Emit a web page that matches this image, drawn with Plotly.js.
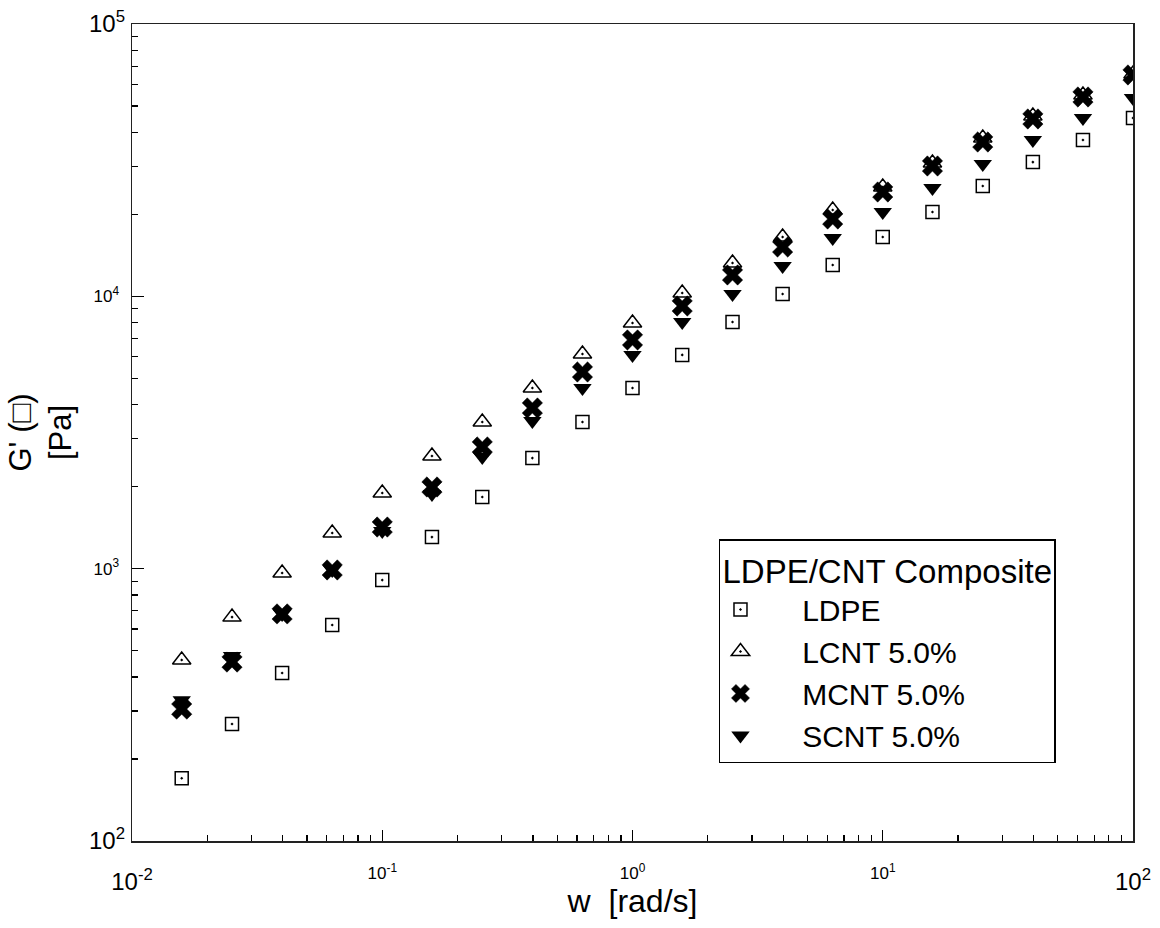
<!DOCTYPE html>
<html>
<head>
<meta charset="utf-8">
<script src="https://cdn.plot.ly/plotly-3.0.1.min.js"></script>
<style>html,body{margin:0;padding:0;background:#fff;}#chart{width:1160px;height:928px;}</style>
</head>
<body>
<div id="chart"></div>
<script>
// frequency w [rad/s]
const freq = [0.0158, 0.0251, 0.0398, 0.0631, 0.1, 0.158, 0.251, 0.398, 0.631, 1, 1.58, 2.51, 3.98, 6.31, 10, 15.8, 25.1, 39.8, 63.1, 100];
// G' [Pa]
const ldpe = [170, 269, 414, 621, 908, 1306, 1833, 2547, 3456, 4606, 6095, 8053, 10200, 13040, 16520, 20400, 25420, 31110, 37500, 45150];
const lcnt = [462, 664, 964, 1352, 1896, 2593, 3455, 4607, 6141, 7984, 10290, 13260, 16520, 20750, 25200, 30880, 38140, 45940, 54860, 65530];
const mcnt = [305, 454, 682, 989, 1422, 1995, 2798, 3890, 5275, 6915, 9216, 11980, 15180, 19230, 24160, 30100, 36870, 44800, 53950, 64990];
const scnt = [329, 478, 682, 989, 1375, 1880, 2571, 3485, 4607, 6088, 8050, 10200, 12930, 16380, 20400, 25000, 30620, 37510, 45170, 53500];

const seriesNames = ['LDPE', 'LCNT 5.0%', 'MCNT 5.0%', 'SCNT 5.0%'];
const legendTitle = 'LDPE/CNT Composite';

// major ticks (inner labels small, end labels large as in the original)
const xMidVals = [0.1, 1, 10];
const xMidText = ['10<sup>-1</sup>', '10<sup>0</sup>', '10<sup>1</sup>'];
const xEndVals = [0.01, 100];
const xEndText = ['10<sup>-2</sup>', '10<sup>2</sup>'];
const yMidVals = [1000, 10000];
const yMidText = ['10<sup>3</sup>', '10<sup>4</sup>'];
const yEndVals = [100, 100000];
const yEndText = ['10<sup>2</sup>', '10<sup>5</sup>'];

function minorVals(lo, hi) {
  const v = [];
  for (let k = lo; k < hi; k++) for (let m = 2; m <= 9; m++) v.push(m * Math.pow(10, k));
  return v;
}

const pad = '\u00a0\u00a0\u00a0\u00a0\u00a0';
const traces = [
  {x: freq, y: ldpe, name: pad + seriesNames[0], mode: 'markers', type: 'scatter',
   marker: {symbol: 'square-open-dot', size: 13, color: 'black', line: {color: 'black', width: 1.5}}},
  {x: freq, y: lcnt, name: pad + seriesNames[1], mode: 'markers', type: 'scatter',
   marker: {symbol: 'triangle-up-open-dot', size: 16, color: 'black', line: {color: 'black', width: 1.5}}},
  {x: freq, y: mcnt, name: pad + seriesNames[2], mode: 'markers', type: 'scatter',
   marker: {symbol: 'x', size: 18, color: 'black', line: {color: 'black', width: 0.5}}},
  {x: freq, y: scnt, name: pad + seriesNames[3], mode: 'markers', type: 'scatter',
   marker: {symbol: 'triangle-down', size: 16, color: 'black', line: {color: 'black', width: 0}}},
  // invisible helper trace so the overlay axes (large end labels) are drawn
  {x: [freq[0]], y: [ldpe[0]], xaxis: 'x2', yaxis: 'y2', mode: 'markers', type: 'scatter',
   marker: {opacity: 0}, showlegend: false, hoverinfo: 'skip'}
];

const font = 'Liberation Sans, Arial, sans-serif';
const layout = {
  width: 1160, height: 928,
  margin: {l: 132, r: 27, t: 24, b: 87},
  paper_bgcolor: 'white', plot_bgcolor: 'white',
  font: {family: font, color: 'black'},
  showlegend: true,
  legend: {
    x: 0.5864, y: 0.3696, xanchor: 'left', yanchor: 'top',
    bordercolor: 'black', borderwidth: 1.5, bgcolor: 'white',
    font: {size: 30, family: font, color: 'black'},
    title: {text: legendTitle, font: {size: 33, family: font, color: 'black'}},
    tracegroupgap: 0
  },
  xaxis: {
    type: 'log', range: [-2, 2], autorange: false,
    showgrid: false, zeroline: false,
    showline: true, mirror: true, linecolor: '#222', linewidth: 1.5,
    ticks: 'inside', ticklen: 11, tickwidth: 1.2, tickcolor: 'black',
    tickmode: 'array', tickvals: xMidVals, ticktext: xMidText,
    tickfont: {size: 17, family: font, color: 'black'},
    ticklabelstandoff: 16,
    minor: {tickmode: 'array', tickvals: minorVals(-2, 2), ticks: 'inside', ticklen: 6, tickwidth: 1.2, tickcolor: 'black', showgrid: false},
    title: {text: 'w\u00a0\u00a0[rad/s]', font: {size: 32, family: font, color: 'black'}, standoff: 1}
  },
  xaxis2: {
    type: 'log', range: [-2, 2], autorange: false, overlaying: 'x', anchor: 'y', side: 'bottom',
    showgrid: false, zeroline: false, showline: false,
    ticks: '', tickmode: 'array', tickvals: xEndVals, ticktext: xEndText,
    tickfont: {size: 24, family: font, color: 'black'},
    ticklabelstandoff: 24
  },
  yaxis: {
    type: 'log', range: [2, 5], autorange: false,
    showgrid: false, zeroline: false,
    showline: true, mirror: true, linecolor: '#222', linewidth: 1.5,
    ticks: 'inside', ticklen: 12, tickwidth: 1.2, tickcolor: 'black',
    tickmode: 'array', tickvals: yMidVals, ticktext: yMidText,
    tickfont: {size: 17, family: font, color: 'black'},
    ticklabelstandoff: 8,
    minor: {tickmode: 'array', tickvals: minorVals(2, 5), ticks: 'inside', ticklen: 6, tickwidth: 1.2, tickcolor: 'black', showgrid: false},
    title: {text: "G' (\u25a1)<br>[Pa]", font: {size: 31, family: font, color: 'black'}, standoff: 12}
  },
  yaxis2: {
    type: 'log', range: [2, 5], autorange: false, overlaying: 'y', anchor: 'x', side: 'left',
    showgrid: false, zeroline: false, showline: false,
    ticks: '', tickmode: 'array', tickvals: yEndVals, ticktext: yEndText,
    tickfont: {size: 24, family: font, color: 'black'},
    ticklabelstandoff: 6
  }
};

Plotly.newPlot('chart', traces, layout, {displayModeBar: false, staticPlot: true});
</script>
</body>
</html>
